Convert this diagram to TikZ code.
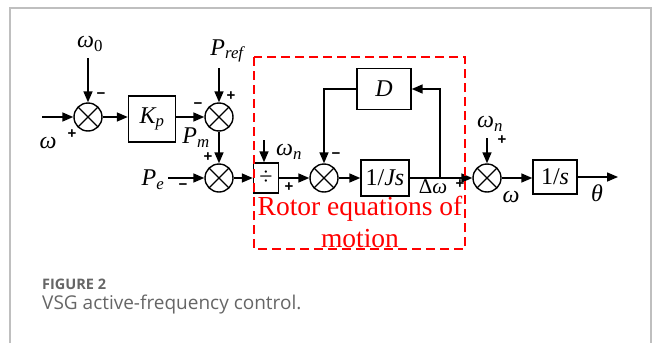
\documentclass[tikz,border=0pt]{standalone}
\usepackage{fontspec}
\setmainfont{Liberation Serif}
\newfontfamily\signfont{Liberation Sans}
\newfontfamily\capfont{Open Sans}
\usetikzlibrary{arrows.meta}
\tikzset{
  sumnode/.style={circle,draw,line width=1.4pt,minimum size=28pt,inner sep=0pt,
    path picture={\draw[line width=1.3pt] (path picture bounding box.north west)--(path picture bounding box.south east)
      (path picture bounding box.north east)--(path picture bounding box.south west);}},
  blockbox/.style={draw,line width=1.4pt,inner sep=0pt,font=\fontsize{24}{26}\selectfont},
  conn/.style={line width=1.5pt,-{Triangle[length=11pt,width=9pt]}},
  plain/.style={line width=1.5pt},
  lbl/.style={inner sep=0pt,font=\fontsize{24}{26}\selectfont},
  sign/.style={inner sep=0pt,font=\signfont\bfseries\fontsize{15}{16}\selectfont},
  redtxt/.style={inner sep=0pt,text=red,font=\fontsize{27.5}{29}\selectfont}
}
\begin{document}
\begin{tikzpicture}[x=1pt,y=-1pt]
\useasboundingbox (0,0) rectangle (655,343);
\fill[white] (0,0) rectangle (655,343);
% frame
\draw[black!25,line width=1.5pt] (10,343) -- (10,8) -- (651,8) -- (651,343);

% nodes
\node[sumnode] (s1) at (88,117) {};
\node[blockbox,minimum width=47pt,minimum height=46pt] (kp) at (152,119) {\itshape K\textsubscript{p}};
\node[sumnode] (s2) at (219,117) {};
\node[sumnode] (s3) at (219,178) {};
\node[blockbox,minimum width=25pt,minimum height=30pt] (dv) at (266,178) {÷};
\node[blockbox,minimum width=48pt,minimum height=36pt] (js) at (385,178) {1/\textit{Js}};
\node[sumnode] (s4) at (324,178) {};
\node[blockbox,minimum width=54pt,minimum height=41pt] (D) at (384,89) {\itshape D};
\node[sumnode] (s5) at (487,178) {};
\node[blockbox,minimum width=44pt,minimum height=34pt] (ss) at (555,177) {1/\textit{s}};

% free ends
\coordinate (in1) at (42,117);
\coordinate (w0c) at (88,58);
\coordinate (prefc) at (219,68);
\coordinate (pec) at (168,178);
\coordinate (wnc) at (264,140);
\coordinate (wn2c) at (487,138);
\coordinate (br) at (440,178);
\coordinate (thend) at (618,177);

% labels
\node[lbl] (lw) at (48,143) {\itshape ω};
\node[sign] (p1) at (72,134) {+};
\node[lbl] (lw0) at (90,44) {\textit{ω}\textsubscript{0}};
\node[sign] (m1) at (101,96) {−};
\node[sign] (m2) at (198,106) {−};
\node[lbl] (lpm) at (196,138) {\textit{P}\textsubscript{\textit{m}}};
\node[lbl] (lpref) at (228,51) {\textit{P}\textsubscript{\textit{ref}}};
\node[sign] (p2) at (231,96) {+};
\node[sign] (p3) at (208,157) {+};
\node[lbl] (lpe) at (153,180) {\textit{P}\textsubscript{\textit{e}}};
\node[sign] (m3) at (183,187) {−};
\node[lbl] (lwn) at (289,152) {\textit{ω}\textsubscript{\textit{n}}};
\node[sign] (p4) at (289,187) {+};
\node[sign] (m4) at (336,156) {−};
\node[lbl,font=\fontsize{21}{23}\selectfont] (ldw) at (433,187) {Δ\textit{ω}};
\node[sign] (p5) at (460,184) {+};
\node[lbl] (lwn2) at (490,124) {\textit{ω}\textsubscript{\textit{n}}};
\node[sign] (p6) at (502,140) {+};
\node[lbl] (lw2) at (511,197) {\itshape ω};
\node[lbl] (lth) at (597,193) {\itshape θ};

% connectors
\draw[conn] (in1) -- (s1);
\draw[conn] (w0c) -- (s1);
\draw[conn] (s1) -- (kp.west |- s1);
\draw[conn] (kp.east |- s2) -- (s2);
\draw[conn] (prefc) -- (s2);
\draw[conn] (s2) -- (s3);
\draw[conn] (pec) -- (s3);
\draw[conn] (s3) -- (dv);
\draw[conn] (wnc) -- (wnc |- dv.north);
\draw[conn] (dv) -- (s4);
\draw[conn] (s4) -- (js);
\draw[plain] (js) -- (br);
\draw[conn] (br) -- (s5);
\draw[conn] (br) |- (D);
\draw[conn] (D) -| (s4);
\draw[conn] (wn2c) -- (s5);
\draw[conn] (s5) -- (ss.west |- s5);
\draw[conn] (ss) -- (thend);

% red dashed region
\draw[red,line width=1.5pt,dash pattern=on 9pt off 5pt] (254,57) rectangle (465,249);
\node[redtxt] (rt1) at (360,209) {Rotor equations of};
\node[redtxt] (rt2) at (360,239) {motion};

% caption
\node[anchor=west,inner sep=0pt,text=black!60,font=\capfont\bfseries\fontsize{14.5}{16}\selectfont] (cap1) at (42,284) {FIGURE 2};
\node[anchor=west,inner sep=0pt,text=black!60,font=\capfont\fontsize{19}{21}\selectfont] (cap2) at (42,305) {VSG active-frequency control.};
\end{tikzpicture}
\end{document}
